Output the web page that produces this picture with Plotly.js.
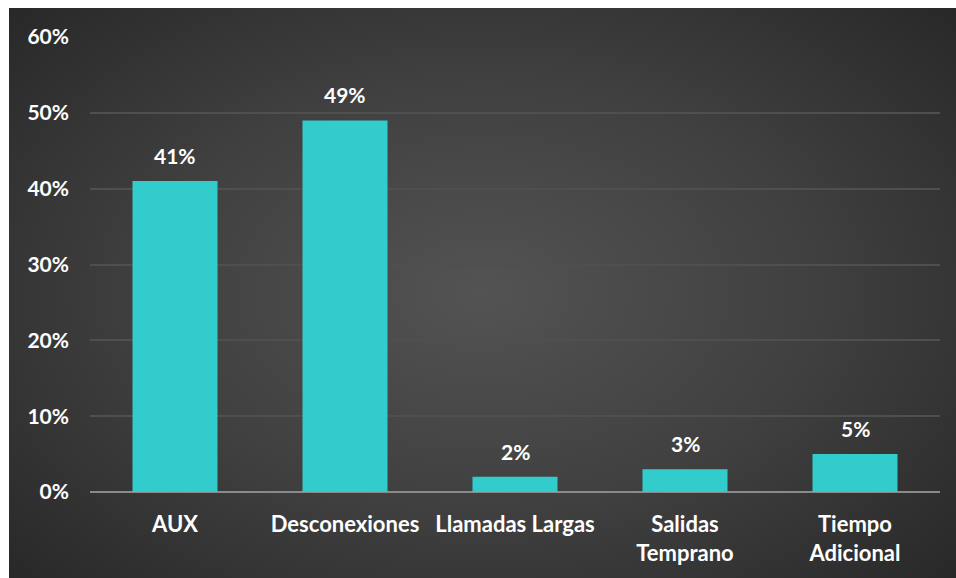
<!DOCTYPE html>
<html><head><meta charset="utf-8">
<script src="https://cdn.plot.ly/plotly-3.0.1.min.js"></script>
<style>
html,body{margin:0;padding:0;background:#fff;width:956px;height:578px;overflow:hidden;}
#chart{position:absolute;left:9px;top:8px;width:947px;height:570px;
background:radial-gradient(ellipse 70% 75% at 50% 50%, #535353 0%, #404040 50%, #272727 100%);}
</style></head>
<body><div id="chart"></div>
<script>
const categories = ["AUX","Desconexiones","Llamadas Largas","Salidas<br>Temprano","Tiempo<br>Adicional"];
const values = [0.41, 0.49, 0.02, 0.03, 0.05];
const labels = ["41%","49%","2%","3%","5%"];
const yTicks = [0,0.1,0.2,0.3,0.4,0.5,0.6];

const font = "Lato, 'Noto Sans', sans-serif";
const annotations = categories.map((c,i)=>({
  x:c, y:values[i], text:labels[i], showarrow:false, yanchor:'bottom', yshift:11,
  font:{family:font, size:21, color:'#ffffff', weight:700}
}));
Plotly.newPlot('chart', [{
  type:'bar', x:categories, y:values,
  marker:{color:'#33CCCC'}, hoverinfo:'none'
}], {
  width:947, height:570,
  paper_bgcolor:'rgba(0,0,0,0)', plot_bgcolor:'rgba(0,0,0,0)',
  margin:{l:81,r:16,t:29,b:86},
  bargap:0.5,
  showlegend:false,
  annotations:annotations,
  font:{family:font, color:'#ffffff', size:21, weight:700},
  xaxis:{showgrid:false, showline:false, ticks:'', tickfont:{family:font,size:22,color:'#fff',weight:700}, ticklabelstandoff:17, zeroline:false},
  yaxis:{range:[0,0.6], tickvals:yTicks, tickformat:'.0%', gridcolor:'#4f4f4f', gridwidth:2,
    zeroline:true, zerolinecolor:'#8a8a8a', zerolinewidth:2.5, showline:false, ticks:'',
    tickfont:{family:font,size:21,color:'#fff',weight:700}, ticklabelstandoff:20}
}, {staticPlot:true});
</script></body></html>
